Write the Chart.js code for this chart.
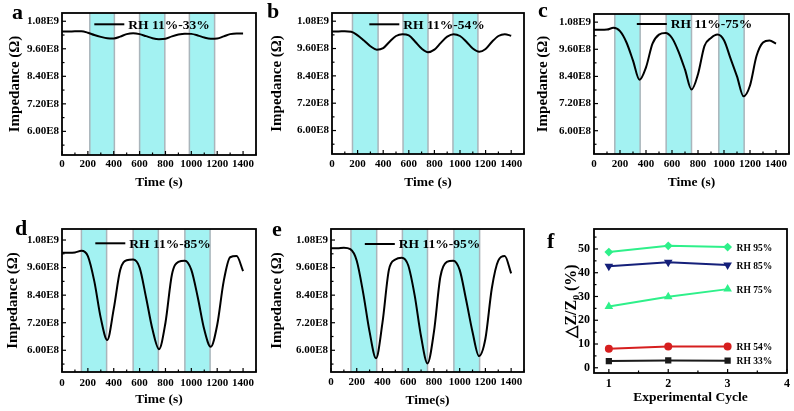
<!DOCTYPE html>
<html>
<head>
<meta charset="utf-8">
<script src="https://cdn.jsdelivr.net/npm/chart.js@4.4.0/dist/chart.umd.min.js"></script>
<style>
  body { margin: 0; width: 794px; height: 411px; background: #fff; position: relative; overflow: hidden; }
  .panel { position: absolute; }
  .letter { position: absolute; font: bold 22px 'Liberation Serif', serif; line-height: 22px; color: #000; }
</style>
</head>
<body>
<div class="panel" style="left:0;top:0;width:265px;height:205px"><canvas id="pa"></canvas></div>
<div class="panel" style="left:265px;top:0;width:265px;height:205px"><canvas id="pb"></canvas></div>
<div class="panel" style="left:530px;top:0;width:264px;height:205px"><canvas id="pc"></canvas></div>
<div class="panel" style="left:0;top:205px;width:265px;height:206px"><canvas id="pd"></canvas></div>
<div class="panel" style="left:265px;top:205px;width:265px;height:206px"><canvas id="pe"></canvas></div>
<div class="panel" style="left:530px;top:205px;width:264px;height:206px"><canvas id="pf"></canvas></div>
<div class="letter" style="left:12px;top:1px">a</div>
<div class="letter" style="left:267px;top:0px">b</div>
<div class="letter" style="left:538px;top:-1px">c</div>
<div class="letter" style="left:15px;top:217px">d</div>
<div class="letter" style="left:272px;top:218px">e</div>
<div class="letter" style="left:547px;top:230px">f</div>
<script>
Chart.defaults.font.family = "'Liberation Serif', 'Times New Roman', serif";
Chart.defaults.font.weight = "bold";
Chart.defaults.color = "#000";

// time axis (s) and impedance (ohm)
const times = [0, 50, 100, 150, 200, 250, 300, 350, 400, 450, 500, 550, 600, 650, 700,
  750, 800, 850, 900, 950, 1000, 1050, 1100, 1150, 1200, 1250, 1300, 1350, 1400];

const imp33 = [1.035e9, 1.035e9, 1.036e9, 1.036e9, 1.030e9, 1.020e9, 1.012e9, 1.006e9, 1.005e9, 1.013e9,
  1.024e9, 1.028e9, 1.024e9, 1.015e9, 1.006e9, 1.002e9, 1.004e9, 1.014e9, 1.022e9, 1.026e9,
  1.025e9, 1.018e9, 1.009e9, 1.004e9, 1.005e9, 1.014e9, 1.024e9, 1.027e9, 1.027e9];
const imp54 = [1.035e9, 1.035e9, 1.036e9, 1.034e9, 1.018e9, 0.995e9, 0.970e9, 0.955e9, 0.962e9, 0.990e9,
  1.015e9, 1.023e9, 1.018e9, 0.990e9, 0.960e9, 0.944e9, 0.955e9, 0.985e9, 1.012e9, 1.023e9,
  1.015e9, 0.990e9, 0.960e9, 0.946e9, 0.958e9, 0.990e9, 1.015e9, 1.023e9, 1.016e9];
const imp75 = [1.046e9, 1.046e9, 1.047e9, 1.055e9, 1.040e9, 0.990e9, 0.910e9, 0.825e9, 0.880e9, 0.985e9,
  1.025e9, 1.032e9, 1.010e9, 0.950e9, 0.870e9, 0.782e9, 0.850e9, 0.975e9, 1.010e9, 1.025e9,
  1.000e9, 0.920e9, 0.840e9, 0.752e9, 0.800e9, 0.930e9, 0.990e9, 0.999e9, 0.985e9];
const imp85 = [1.025e9, 1.025e9, 1.026e9, 1.033e9, 1.010e9, 0.900e9, 0.740e9, 0.645e9, 0.780e9, 0.950e9,
  0.992e9, 0.995e9, 0.960e9, 0.830e9, 0.690e9, 0.605e9, 0.720e9, 0.930e9, 0.985e9, 0.990e9,
  0.950e9, 0.830e9, 0.690e9, 0.615e9, 0.710e9, 0.900e9, 1.005e9, 1.010e9, 0.945e9];
const imp95 = [1.044e9, 1.044e9, 1.046e9, 1.040e9, 0.990e9, 0.850e9, 0.680e9, 0.565e9, 0.720e9, 0.950e9,
  0.995e9, 1.003e9, 0.970e9, 0.840e9, 0.660e9, 0.543e9, 0.680e9, 0.920e9, 0.985e9, 0.990e9,
  0.950e9, 0.820e9, 0.680e9, 0.575e9, 0.650e9, 0.870e9, 0.990e9, 1.010e9, 0.935e9];

// humid exposure windows (s)
const bands33 = [[215, 405], [600, 795], [985, 1180]];
const bands54 = [[160, 360], [555, 750], [945, 1140]];
const bands75 = [[160, 355], [555, 750], [960, 1155]];
const bands85 = [[150, 345], [550, 745], [950, 1145]];
const bands95 = [[155, 355], [555, 750], [955, 1155]];

const xMajor = [0, 200, 400, 600, 800, 1000, 1200, 1400];
const xLabels = ["0", "200", "400", "600", "800", "1000", "1200", "1400"];
const xMinor = [100, 300, 500, 700, 900, 1100, 1300, 1500];
const yMajor = [6.0e8, 7.2e8, 8.4e8, 9.6e8, 1.08e9];
const yLabels = ["6.00E8", "7.20E8", "8.40E8", "9.60E8", "1.08E9"];
const yMinor = [5.4e8, 6.6e8, 7.8e8, 9.0e8, 1.02e9];

// panel f: response vs cycle
const cycles = [1, 2, 3];
const dz33 = [2.8, 3.1, 3.0];
const dz54 = [8.0, 8.9, 8.9];
const dz75 = [25.8, 29.9, 33.1];
const dz85 = [42.7, 44.4, 43.2];
const dz95 = [48.7, 51.3, 50.8];
const fNames = ["RH 33%", "RH 54%", "RH 75%", "RH 85%", "RH 95%"];
const fMajorX = [1, 2, 3, 4];
const fMinorX = [1.5, 2.5, 3.5];
const fMajorY = [0, 10, 20, 30, 40, 50];
const fMinorY = [5, 15, 25, 35, 45, 55];

const setTicks = (major, minor) => (axis) => {
  axis.ticks = major.map((v) => ({ value: v, maj: true }))
    .concat(minor.map((v) => ({ value: v, maj: false })))
    .sort((a, b) => a.value - b.value);
};
const labelFor = (major, labels) => (v) => {
  const i = major.indexOf(v);
  return i < 0 ? "" : labels[i];
};

// box + inward tick marks like the original plot
const framePlugin = {
  id: "frame",
  afterDraw(chart) {
    const { ctx, chartArea: a, scales } = chart;
    ctx.save();
    ctx.strokeStyle = "#000";
    ctx.lineWidth = 1.2;
    scales.x.ticks.forEach((t) => {
      const px = scales.x.getPixelForValue(t.value);
      ctx.beginPath();
      ctx.moveTo(px, a.bottom);
      ctx.lineTo(px, a.bottom - (t.maj ? 4 : 2.5));
      ctx.stroke();
    });
    scales.y.ticks.forEach((t) => {
      const py = scales.y.getPixelForValue(t.value);
      ctx.beginPath();
      ctx.moveTo(a.left, py);
      ctx.lineTo(a.left + (t.maj ? 4 : 2.5), py);
      ctx.stroke();
    });
    ctx.lineWidth = 1.8;
    ctx.strokeRect(a.left, a.top, a.right - a.left, a.bottom - a.top);
    ctx.restore();
  },
};

const bandPlugin = (bands) => ({
  id: "bands",
  beforeDatasetsDraw(chart) {
    const { ctx, chartArea: a, scales } = chart;
    ctx.save();
    bands.forEach(([s, e]) => {
      const x1 = scales.x.getPixelForValue(s);
      const x2 = scales.x.getPixelForValue(e);
      ctx.fillStyle = "#a3f2f2";
      ctx.fillRect(x1, a.top, x2 - x1, a.bottom - a.top);
      ctx.strokeStyle = "#aab5bb";
      ctx.lineWidth = 1.5;
      ctx.beginPath();
      ctx.moveTo(x1, a.top);
      ctx.lineTo(x1, a.bottom);
      ctx.moveTo(x2, a.top);
      ctx.lineTo(x2, a.bottom);
      ctx.stroke();
    });
    ctx.restore();
  },
});

// legend drawn on top of the shaded bands
const lineLegend = (dx, dy) => ({
  id: "lineLegend",
  afterDatasetsDraw(chart) {
    const { ctx, chartArea: a } = chart;
    const text = chart.data.datasets[0].label;
    ctx.save();
    ctx.font = "bold 13.5px 'Liberation Serif', serif";
    const w = 30 + 4 + ctx.measureText(text).width;
    const x0 = (a.left + a.right) / 2 - w / 2 + dx;
    const y0 = a.top + dy;
    ctx.strokeStyle = "#000";
    ctx.lineWidth = 2;
    ctx.beginPath();
    ctx.moveTo(x0, y0);
    ctx.lineTo(x0 + 30, y0);
    ctx.stroke();
    ctx.fillStyle = "#000";
    ctx.textBaseline = "middle";
    ctx.fillText(text, x0 + 34, y0 + 1);
    ctx.restore();
  },
});

const impedanceChart = (id, values, bands, legendText, xTitle, yMin, yMax, box) => {
  new Chart(document.getElementById(id), {
    type: "line",
    data: {
      datasets: [{
        label: legendText,
        data: times.map((t, i) => ({ x: t, y: values[i] })),
        borderColor: "#000",
        borderWidth: 2,
        pointRadius: 0,
        cubicInterpolationMode: "monotone",
        fill: false,
      }],
    },
    options: {
      responsive: true,
      maintainAspectRatio: false,
      animation: false,
      layout: { autoPadding: false, padding: { top: box.top, right: box.right, left: 0, bottom: 0 } },
      plugins: { tooltip: { enabled: false }, legend: { display: false } },
      scales: {
        x: {
          type: "linear",
          min: 0,
          max: 1500,
          grid: { display: false, drawTicks: false },
          border: { display: false },
          afterBuildTicks: setTicks(xMajor, xMinor),
          afterFit: (s) => { s.height = box.xh; },
          ticks: { autoSkip: false, maxRotation: 0, minRotation: 0, padding: box.xtp, font: { size: 11 }, callback: labelFor(xMajor, xLabels) },
          title: { display: true, text: xTitle, font: { size: 13.5 }, padding: { top: 0, bottom: box.xt } },
        },
        y: {
          min: yMin,
          max: yMax,
          grid: { display: false, drawTicks: false },
          border: { display: false },
          afterBuildTicks: setTicks(yMajor, yMinor),
          afterFit: (s) => { s.width = box.yw; },
          ticks: { autoSkip: false, padding: 3, font: { size: 11 }, callback: labelFor(yMajor, yLabels) },
          title: { display: true, text: "Impedance (Ω)", font: { size: 15 }, padding: { top: box.yt, bottom: 0 } },
        },
      },
    },
    plugins: [bandPlugin(bands), lineLegend(box.lx, box.ly), framePlugin],
  });
};

impedanceChart("pa", imp33, bands33, "RH 11%-33%", "Time (s)", 4.97e8, 1.116e9,
  { top: 13, right: 9, xh: 50, yw: 62, lx: -7, ly: 11.3, xtp: 3, xt: 14, yt: 6 });
impedanceChart("pb", imp54, bands54, "RH 11%-54%", "Time (s)", 4.97e8, 1.116e9,
  { top: 13, right: 6, xh: 51, yw: 67, lx: -1, ly: 11.3, xtp: 4, xt: 14, yt: 3 });
impedanceChart("pc", imp75, bands75, "RH 11%-75%", "Time (s)", 4.97e8, 1.116e9,
  { top: 14, right: 5, xh: 51, yw: 64, lx: 3, ly: 10, xtp: 4, xt: 14, yt: 4 });
impedanceChart("pd", imp85, bands85, "RH 11%-85%", "Time (s)", 5.055e8, 1.128e9,
  { top: 24, right: 9, xh: 39, yw: 62, lx: -6, ly: 14.3, xtp: 5, xt: 3, yt: 4 });
impedanceChart("pe", imp95, bands95, "RH 11%-95%", "Time(s)", 5.055e8, 1.128e9,
  { top: 24, right: 6, xh: 39, yw: 66, lx: -5, ly: 15, xtp: 4, xt: 2, yt: 3 });

// panel f
const fValues = [dz33, dz54, dz75, dz85, dz95];
const fColors = ["#1a1a1a", "#d61f1f", "#2ef08a", "#15207a", "#2ef08a"];
const fStyles = ["rect", "circle", "triangle", "triangle", "rectRot"];
const fRotation = [0, 0, 0, 180, 0];

const endLabels = {
  id: "endLabels",
  afterDatasetsDraw(chart) {
    const { ctx, scales } = chart;
    ctx.save();
    ctx.font = "bold 9.5px 'Liberation Serif', serif";
    ctx.fillStyle = "#000";
    ctx.textBaseline = "middle";
    fValues.forEach((vals, i) => {
      const last = vals.length - 1;
      const px = scales.x.getPixelForValue(cycles[last]) + 9;
      const py = scales.y.getPixelForValue(vals[last]) + 1;
      ctx.fillText(fNames[i], px, py);
    });
    ctx.restore();
  },
};

new Chart(document.getElementById("pf"), {
  type: "scatter",
  data: {
    datasets: fValues.map((vals, i) => ({
      label: fNames[i],
      data: cycles.map((c, j) => ({ x: c, y: vals[j] })),
      showLine: true,
      borderColor: fColors[i],
      backgroundColor: fColors[i],
      borderWidth: 2,
      pointStyle: fStyles[i],
      pointRotation: fRotation[i],
      pointRadius: 3,
    })),
  },
  options: {
    responsive: true,
    maintainAspectRatio: false,
    animation: false,
    layout: { autoPadding: false, padding: { top: 24, right: 6, left: 0, bottom: 0 } },
    plugins: { legend: { display: false }, tooltip: { enabled: false } },
    scales: {
      x: {
        type: "linear",
        min: 0.75,
        max: 4,
        grid: { display: false, drawTicks: false },
        border: { display: false },
        afterBuildTicks: setTicks(fMajorX, fMinorX),
        afterFit: (s) => { s.height = 38; },
        ticks: { autoSkip: false, maxRotation: 0, padding: 4, font: { size: 12 }, callback: labelFor(fMajorX, fMajorX.map(String)) },
        title: { display: true, text: "Experimental Cycle", font: { size: 13.5 }, padding: { top: 0, bottom: 5 } },
      },
      y: {
        min: -2.2,
        max: 58.4,
        grid: { display: false, drawTicks: false },
        border: { display: false },
        afterBuildTicks: setTicks(fMajorY, fMinorY),
        afterFit: (s) => { s.width = 64; },
        ticks: { autoSkip: false, padding: 4, font: { size: 12 }, callback: labelFor(fMajorY, fMajorY.map(String)) },
        title: { display: true, text: "△Z/Z₀ (%)", font: { size: 16 }, padding: { top: 32, bottom: 0 } },
      },
    },
  },
  plugins: [framePlugin, endLabels],
});
</script>
</body>
</html>
